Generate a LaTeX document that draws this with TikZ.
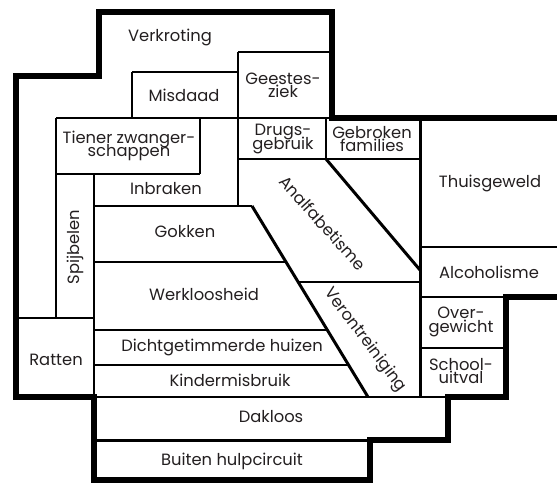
\documentclass[tikz,border=0pt]{standalone}
\usepackage{fontspec}
\setmainfont{Poppins}
\usepackage{xcolor}
\usepackage{tikz}
\definecolor{inkgray}{RGB}{35, 31, 32}
\lineskiplimit=-20pt

\begin{document}
\begin{tikzpicture}[
    x=0.02cm, y=-0.02cm,
    wall/.style={draw=black, line width=1.7pt},
    outline/.style={draw=black, line width=3.2pt, line join=miter},
    cell/.style={align=center, text=inkgray, inner sep=0pt,
                 font=\fontsize{9.3}{7.6}\selectfont}
]
    \useasboundingbox (0,0) rectangle (557,483);

    % Inner walls - horizontal
    \draw[wall] (132,72) -- (238,72);
    \draw[wall] (238,52) -- (332,52);
    \draw[wall] (56,118) -- (420,118);
    \draw[wall] (56,174) -- (200,174);
    \draw[wall] (238,159) -- (420,159);
    \draw[wall] (94,206) -- (252,206);
    \draw[wall] (94,262) -- (286,262);
    \draw[wall] (298,282) -- (420,282);
    \draw[wall] (16,318) -- (94,318);
    \draw[wall] (94,330) -- (327,330);
    \draw[wall] (94,365) -- (348,365);
    \draw[wall] (420,247) -- (557,247);
    \draw[wall] (420,297) -- (506,297);
    \draw[wall] (420,348) -- (506,348);
    \draw[wall] (94,397) -- (448,397);
    \draw[wall] (94,440) -- (370,440);

    % Inner walls - vertical and slanted
    \draw[wall] (132,72) -- (132,118);
    \draw[wall] (238,52) -- (238,206);
    \draw[wall] (56,118) -- (56,318);
    \draw[wall] (200,118) -- (200,174);
    \draw[wall] (94,174) -- (94,397);
    \draw[wall] (326,118) -- (326,159);
    \draw[wall] (420,118) -- (420,397);
    \draw[wall] (252,206) -- (368,397);
    \draw[wall] (326,159) -- (420,270);

    % Outer border
    \draw[outline] (557,118) -- (332,118) -- (332,12) -- (99,12)
        -- (99,76) -- (16,76) -- (16,397) -- (94,397) -- (94,480)
        -- (370,480) -- (370,440) -- (448,440) -- (448,397)
        -- (506,397) -- (506,297) -- (557,297);

    % Labels - top and left
    \node[cell] (verkroting) at (170,37) {Verkroting};
    \node[cell] (misdaad) at (184,95) {Misdaad};
    \node[cell] (geestesziek) at (283,85) {Geestes-\\ziek};
    \node[cell] (tiener) at (129,146) {Tiener zwanger-\\schappen};
    \node[cell, rotate=90] (spijbelen) at (75,247) {Spijbelen};
    \node[cell] (ratten) at (56,360) {Ratten};

    % Labels - middle block
    \node[cell] (drugs) at (283,139) {Drugs-\\gebruik};
    \node[cell] (gebroken) at (372,139) {Gebroken\\families};
    \node[cell] (inbraken) at (166,189) {Inbraken};
    \node[cell] (gokken) at (185,232) {Gokken};
    \node[cell] (werkloosheid) at (204,294) {Werkloosheid};
    \node[cell] (dichtgetimmerd) at (222,347) {Dichtgetimmerde huizen};
    \node[cell] (kindermisbruik) at (230,380) {Kindermisbruik};
    \node[cell, rotate=-48] (analfabetisme) at (323,223) {Analfabetisme};
    \node[cell, rotate=-53] (verontreiniging) at (365,340) {Verontreiniging};

    % Labels - right column and bottom
    \node[cell] (thuisgeweld) at (490,183) {Thuisgeweld};
    \node[cell] (alcoholisme) at (489,272) {Alcoholisme};
    \node[cell] (overgewicht) at (461,322) {Over-\\gewicht};
    \node[cell] (schooluitval) at (461,371) {School-\\uitval};
    \node[cell] (dakloos) at (271,417) {Dakloos};
    \node[cell] (buiten) at (232,461) {Buiten hulpcircuit};
\end{tikzpicture}
\end{document}
